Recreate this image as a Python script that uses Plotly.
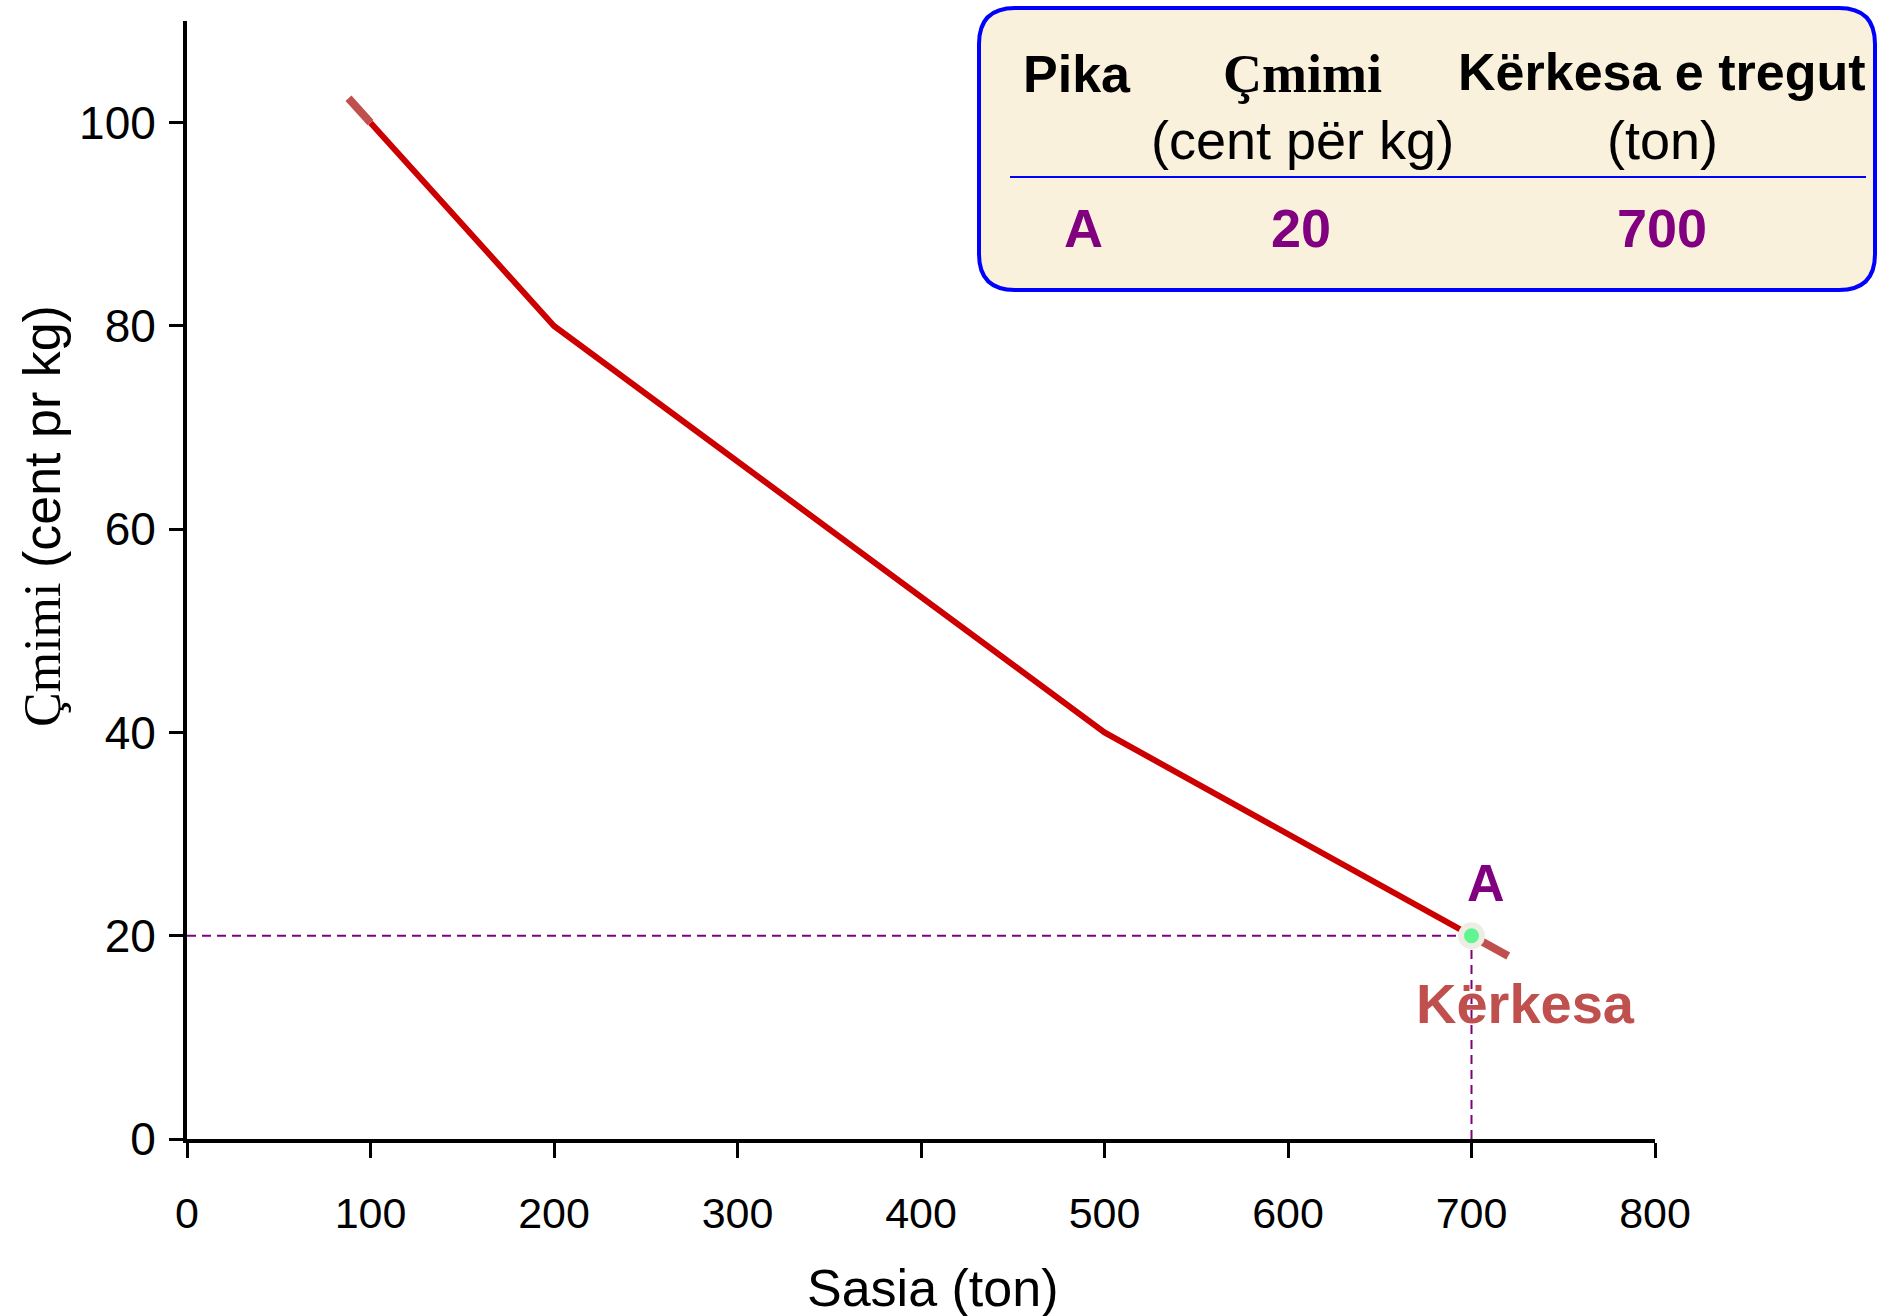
import plotly.graph_objects as go

# ---- data ----
demand_q = [100, 200, 500, 700]
demand_p = [100, 80, 40, 20]
ext_top_q = [88, 100]
ext_top_p = [102.4, 100]
ext_bot_q = [700, 720]
ext_bot_p = [20, 18]
point_q = [700]
point_p = [20]
x_ticks = [0, 100, 200, 300, 400, 500, 600, 700, 800]
y_ticks = [0, 20, 40, 60, 80, 100]
table_header = ["Pika", "Çmimi", "Kërkesa e tregut"]
table_units = ["(cent për kg)", "(ton)"]
table_row = ["A", "20", "700"]

W, H = 1878, 1316
L, R, T, B = 187, 1655, 21, 1139
SANS = "Liberation Sans, Arial, sans-serif"
SERIF = "Liberation Serif, Times New Roman, serif"
PURPLE = "#800080"


def px(x):
    return (x - L) / (R - L)


def py(y):
    return (B - y) / (B - T)


def paper_text(x, y, text, size, color="black", family=SANS, angle=0):
    fig.add_annotation(xref="paper", yref="paper", x=px(x), y=py(y), text=text,
                       xanchor="center", yanchor="middle", textangle=angle,
                       showarrow=False, font=dict(family=family, size=size, color=color))


fig = go.Figure()

# guide lines
fig.add_trace(go.Scatter(x=[0, point_q[0]], y=[point_p[0], point_p[0]], mode="lines",
                         line=dict(color=PURPLE, width=2, dash="9px,6px"), hoverinfo="skip"))
fig.add_trace(go.Scatter(x=[point_q[0], point_q[0]], y=[0, point_p[0]], mode="lines",
                         line=dict(color=PURPLE, width=2, dash="9px,6px"), hoverinfo="skip"))
# extensions
fig.add_trace(go.Scatter(x=ext_top_q, y=ext_top_p, mode="lines",
                         line=dict(color="#C0504D", width=8)))
fig.add_trace(go.Scatter(x=ext_bot_q, y=ext_bot_p, mode="lines",
                         line=dict(color="#C0504D", width=8)))
# demand curve
fig.add_trace(go.Scatter(x=demand_q, y=demand_p, mode="lines",
                         line=dict(color="#CC0000", width=6)))
# point A
fig.add_trace(go.Scatter(x=point_q, y=point_p, mode="markers",
                         marker=dict(size=21, color="#60F590",
                                     line=dict(color="#EEEDE3", width=6))))

fig.add_annotation(x=708, y=25.2, text="<b>A</b>", showarrow=False,
                   xanchor="center", yanchor="middle",
                   font=dict(family=SANS, size=52, color=PURPLE))
fig.add_annotation(x=729.5, y=13.3, text="<b>Kërkesa</b>", showarrow=False,
                   xanchor="center", yanchor="middle",
                   font=dict(family=SANS, size=56, color="#C0504D"))

# axis titles
paper_text(932, 1288, "Sasia (ton)", 52)
paper_text(42, 516, '<span style="font-family:Liberation Serif">Çmimi</span> (cent pr kg)',
           52, angle=-90)

# table box
x0, x1, y0, y1 = px(979), px(1875), py(290), py(8)
rx, ry = 36 / (R - L), 36 / (B - T)
path = (f"M {x0+rx},{y1} L {x1-rx},{y1} Q {x1},{y1} {x1},{y1-ry} "
        f"L {x1},{y0+ry} Q {x1},{y0} {x1-rx},{y0} L {x0+rx},{y0} "
        f"Q {x0},{y0} {x0},{y0+ry} L {x0},{y1-ry} Q {x0},{y1} {x0+rx},{y1} Z")
fig.add_shape(type="path", xref="paper", yref="paper", path=path,
              fillcolor="#FAF1DC", line=dict(color="#0000FF", width=4), layer="above")
fig.add_shape(type="line", xref="paper", yref="paper", x0=px(1010), x1=px(1866),
              y0=py(177), y1=py(177), line=dict(color="#0000FF", width=2), layer="above")

paper_text(1077, 74, f"<b>{table_header[0]}</b>", 52)
paper_text(1302, 74, f"<b>{table_header[1]}</b>", 54, family=SERIF)
paper_text(1662, 72, f"<b>{table_header[2]}</b>", 52)
paper_text(1302, 140, table_units[0], 54)
paper_text(1662, 140, table_units[1], 54)
for cx, t in zip([1083, 1301, 1662], table_row):
    paper_text(cx, 228, f"<b>{t}</b>", 54, color=PURPLE)

fig.update_layout(
    width=W, height=H,
    margin=dict(l=L, r=W - R, t=T, b=H - B),
    paper_bgcolor="white", plot_bgcolor="white",
    showlegend=False,
)
fig.update_xaxes(range=[0, 800], tickvals=x_ticks, showgrid=False, zeroline=False,
                 showline=True, linecolor="black", linewidth=4,
                 ticks="outside", ticklen=15, tickwidth=3, tickcolor="black",
                 ticklabelstandoff=18,
                 tickfont=dict(family=SANS, size=43, color="black"))
fig.update_yaxes(range=[0, 110], tickvals=y_ticks, showgrid=False, zeroline=False,
                 showline=True, linecolor="black", linewidth=4,
                 ticks="outside", ticklen=14, tickwidth=3, tickcolor="black",
                 ticklabelstandoff=4,
                 tickfont=dict(family=SANS, size=46, color="black"))

fig.write_html("out.html", config={"displayModeBar": False},
               post_script="document.body.style.margin='0';")
